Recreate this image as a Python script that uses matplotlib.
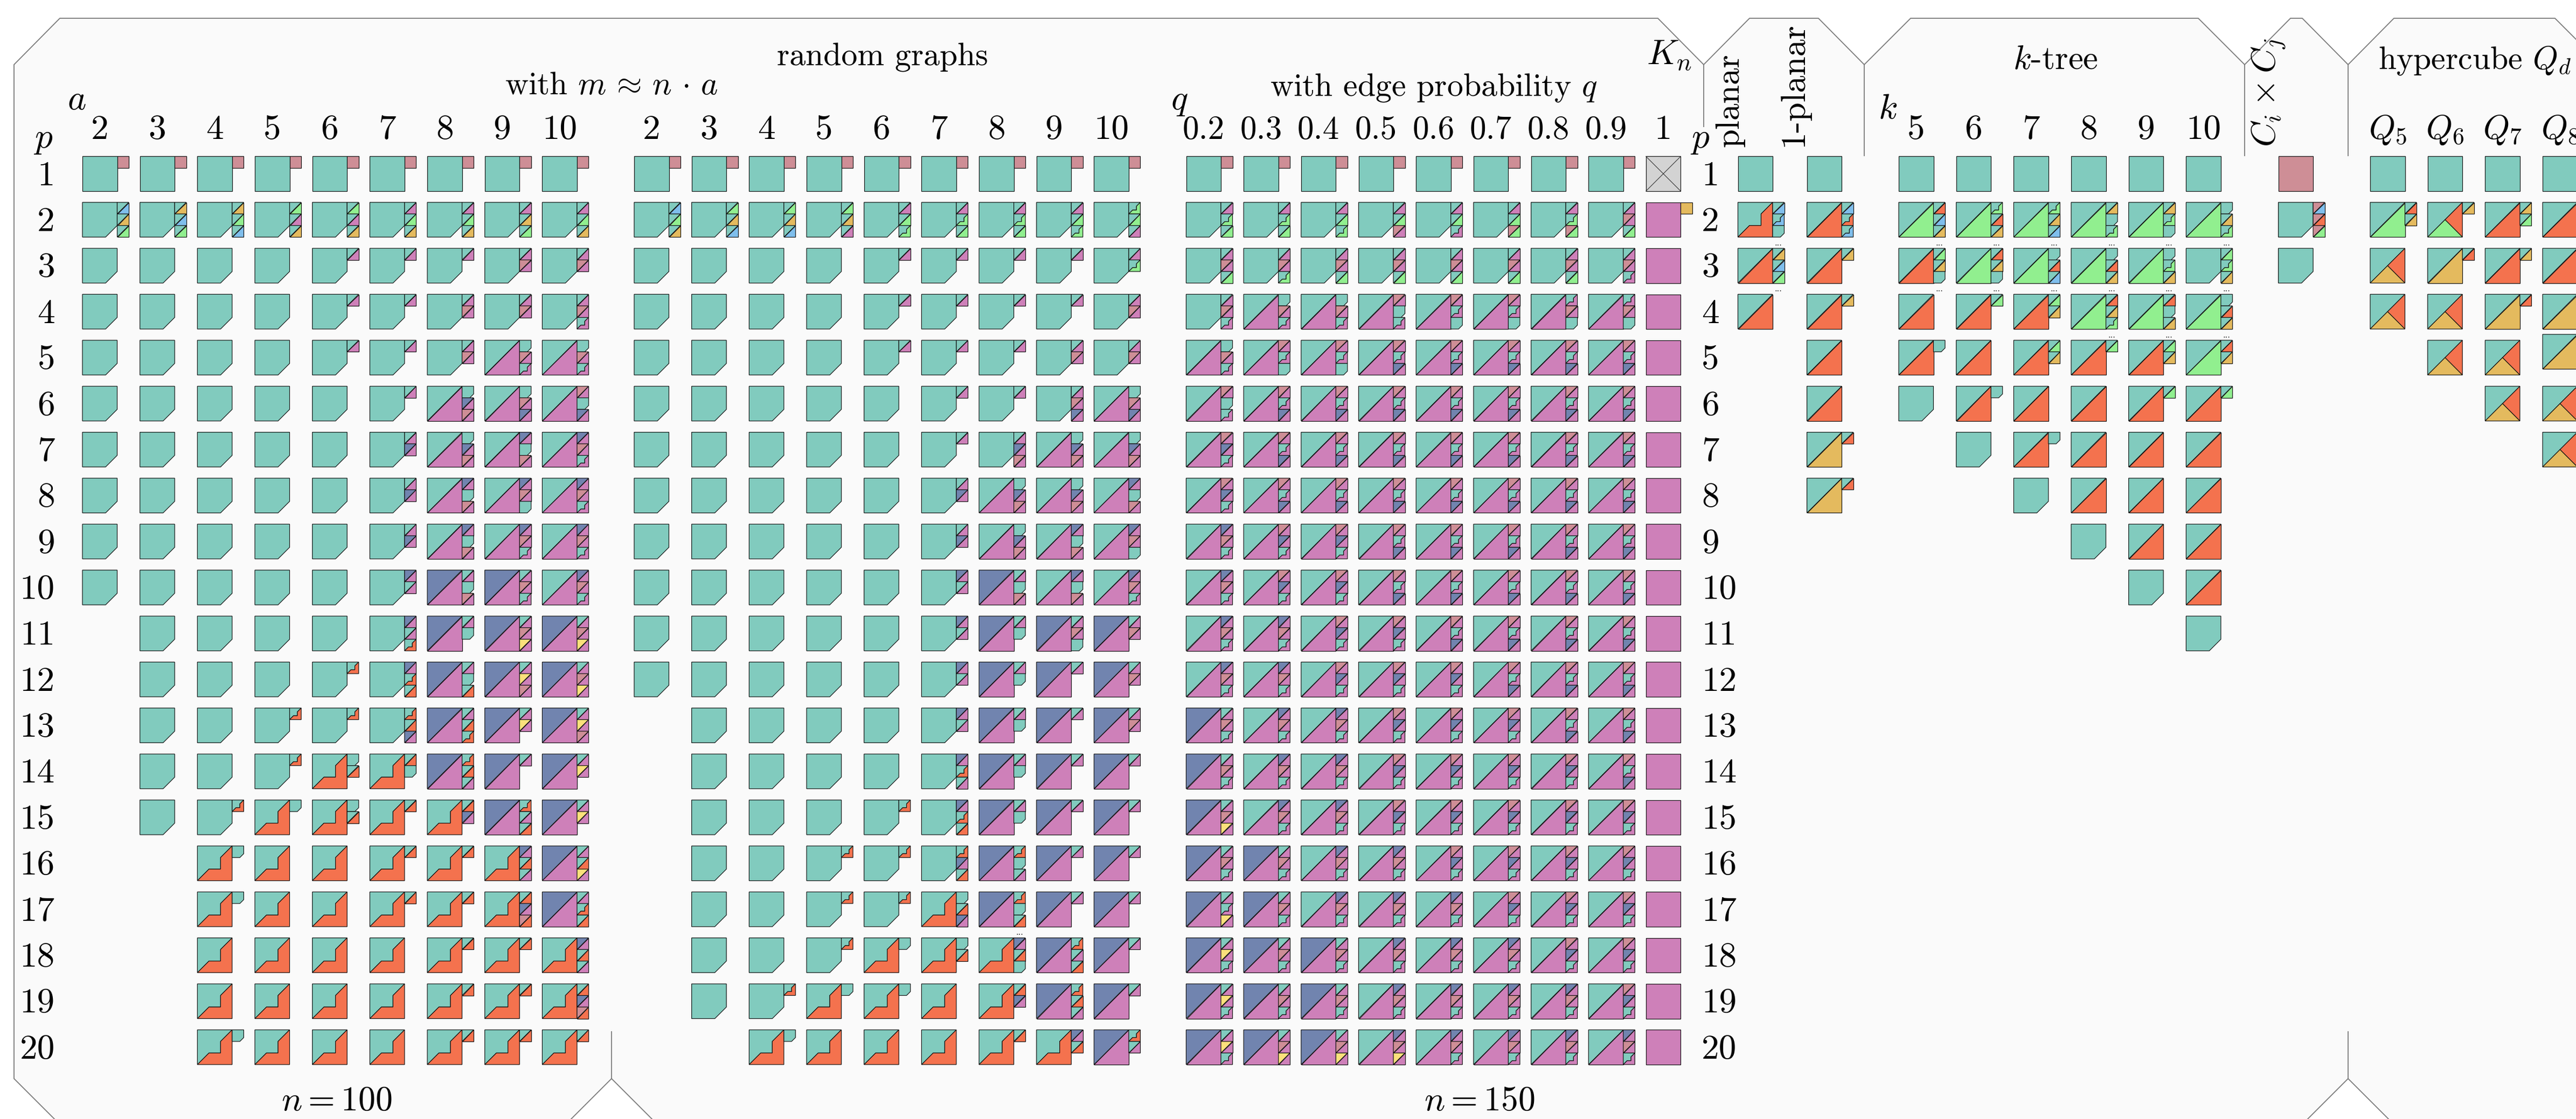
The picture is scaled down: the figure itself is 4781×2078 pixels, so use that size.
import matplotlib
matplotlib.use("Agg")
import matplotlib.pyplot as plt
from matplotlib.patches import Polygon

plt.rcParams['font.family'] = ['cmr10', 'DejaVu Sans']
plt.rcParams['mathtext.fontset'] = 'cm'
plt.rcParams['axes.unicode_minus'] = False

COLORS = {'t': '#81CBBE', 'm': '#CE80B9', 'b': '#7184AF', 'r': '#CE8E96', 'o': '#F4724E',
          'g': '#91EF8F', 'y': '#FBE07B', 'a': '#E4BA5E', 's': '#7FBEEC', 'x': '#D3D3D3'}

# Cell grammar: cells separated by blanks, "-" empty, first token main glyph, rest side glyphs
# c clipped teal | x crossed | lower letter full | Upper letter staircase teal/colour
# two letters diagonal | three letters three-part

RANDOM_M100 = [
"t,r t,r t,r t,r t,r t,r t,r t,r t,r",
"c,ts,ta,tg c,ta,ts,tg c,ta,tg,ts c,tg,tm,ta c,tg,tm,ta c,tm,tg,ta c,tm,tg,ta c,tm,ta,tg c,tm,tg,ta",
"c c c c c,tm c,tm c,tm c,tm,rm c,tm,rm",
"c c c c c,tm c,tm c,tm,rm c,tm,rm c,tm,rm,M",
"c c c c c,tm c,tm c,tm,rm tm,c,rm,M tm,c,rm,M",
"c c c c c c,tm tm,c,bm,rm tm,c,rm,bm tm,rm,c,bm",
"c c c c c c,tm,bm tm,c,bm,rm tm,bm,c,rm tm,bm,rm,M",
"c c c c c c,tm,bm tm,bm,c,rm tm,bm,rm,c tm,bm,rm,M",
"c c c c c c,tm,bm tm,bm,c,rm tm,bm,rm,M tm,bm,rm,M",
"c c c c c c,bm,tm bm,tm,c,rm bm,tm,rm,M tm,bm,rm,M",
"- c c c c c,bm,tm,O bm,tm,c bm,tm,rm,ym bm,tm,rm,ym",
"- c c c c,O c,bm,O,to bm,tm,c,to bm,tm,ym,rm bm,tm,rm,ym",
"- c c c,O c,O c,O,to,bm bm,tm,to,O bm,tm,ym bm,tm,ym,rm",
"- c c c,O O,c,to O,to,c bm,O,to,tm bm,tm bm,tm,ym",
"- c c,O O,c O,c,to O,to O,to,bm bm,O,tm,to bm,tm,ym",
"- - O,c O O O,to O,to O,bm,to,tm bm,tm,to,ym",
"- - O,c O O O,to O,to O,to,bm,ro bm,tm,O,to",
"- - O O O O O,to O,to O,bm,to,tm",
"- - O O O O O,to O,to O,to,bm,ro",
"- - O,c O O O O,to O,to O,to",
]

RANDOM_M150 = [
"t,r t,r t,r t,r t,r t,r t,r t,r t,r",
"c,ts,tg,ta c,tg,ta,ts c,tg,ta,ts c,tg,ta,tm c,tm,tg,G c,tm,G,tg c,tm,G,tg c,tm,tg,G c,G,tg,tm",
"c c c c c,tm c,tm c,tm c,tm c,tm,G",
"c c c c c,tm c,tm c,tm c,tm c,tm,rm",
"c c c c c,tm c,tm c,tm c,tm,rm c,tm,rm",
"c c c c c c,tm c,tm c,tm,rm,bm tm,c,rm,bm",
"c c c c c c,tm c,tm,bm,rm tm,c,bm,rm tm,c,bm,rm",
"c c c c c c,tm,bm tm,c,bm,rm tm,c,bm,rm tm,bm,c,rm",
"c c c c c c,tm,bm tm,c,bm,rm tm,bm,c,rm tm,bm,rm,c",
"c c c c c c,bm,tm bm,tm,c,rm tm,bm,c,rm tm,bm,rm,M",
"c c c c c c,bm,tm bm,tm,c bm,tm,rm,c bm,tm,rm",
"c c c c c c,bm,tm bm,tm,c bm,tm bm,tm,rm",
"- c c c c c,bm,tm bm,tm,c bm,tm bm,tm,rm",
"- c c c c c,bm,O,tm bm,tm,c bm,tm bm,tm",
"- c c c c,O c,bm,O,to bm,tm,c bm,tm bm,tm",
"- c c c,O c,O c,O,bm,to bm,O,c,tm bm,tm bm,tm",
"- c c c,O c,O O,c,to,bm bm,O,c,to bm,tm bm,tm",
"- c c c,O O,c O,c,to O,bm,to,c bm,O,tm,to bm,tm",
"- c c,O O,c O,c O O,to,bm bm,O,to,tm bm,tm",
"- - O,c O O O O,to O,bm,to bm,O,tm",
]

RANDOM_Q = [
"t,r t,r t,r t,r t,r t,r t,r t,r",
"c,tm,G,tg c,tm,G,tg c,tm,tg,G c,tm,tg,rm c,tm,tg,M c,tm,tg,rg c,tm,G,rg c,tm,rm,tg",
"c,tm,rm,tg c,tm,rm,G c,tm,rm,tg c,tm,rm,tg c,tm,rm,tg c,tm,rm,tg c,tm,rm,tg c,tm,rm,M",
"c,tm,rm,M tm,c,rm,M tm,c,rm,M tm,rm,c,M tm,rm,M,c tm,rm,M,c tm,M,rm,c tm,M,rm,c",
"tm,c,rm,M tm,rm,M,c tm,rm,M,c tm,rm,M,bm tm,rm,M,bm tm,rm,M,bm tm,rm,M,bm tm,rm,M,bm",
"tm,rm,c,M tm,rm,M,bm tm,rm,M,bm tm,rm,M,bm tm,rm,M,bm tm,rm,M,bm tm,rm,M,bm tm,rm,M,bm",
"tm,rm,bm,M tm,rm,M,bm tm,rm,M,bm tm,rm,M,bm tm,rm,M,bm tm,rm,M,bm tm,rm,M,bm tm,rm,M,bm",
"tm,rm,bm,M tm,rm,M,bm tm,rm,M,bm tm,rm,M,bm tm,rm,M,bm tm,rm,M,bm tm,rm,M,bm tm,rm,M,bm",
"tm,bm,rm,M tm,rm,bm,M tm,rm,bm,M tm,rm,M,bm tm,rm,M,bm tm,rm,M,bm tm,rm,M,bm tm,rm,M,bm",
"tm,bm,rm,M tm,rm,bm,M tm,rm,bm,M tm,rm,M,bm tm,rm,M,bm tm,rm,M,bm tm,rm,M,bm tm,rm,M,bm",
"tm,bm,rm,M tm,bm,rm,M tm,rm,bm,M tm,rm,bm,M tm,rm,M,bm tm,rm,M,bm tm,rm,M,bm tm,rm,M,bm",
"tm,bm,rm,M tm,bm,rm,M tm,rm,bm,M tm,rm,bm,M tm,rm,bm,M tm,rm,M,bm tm,rm,M,bm tm,rm,M,bm",
"bm,tm,rm,M tm,bm,rm,M tm,bm,rm,M tm,rm,bm,M tm,rm,bm,M tm,rm,bm,M tm,rm,M,bm tm,rm,M,bm",
"bm,tm,rm,M tm,bm,rm,M tm,bm,rm,M tm,rm,bm,M tm,rm,bm,M tm,rm,bm,M tm,rm,bm,M tm,rm,M,bm",
"bm,tm,rm,ym tm,bm,rm,M tm,bm,rm,M tm,rm,bm,M tm,rm,bm,M tm,rm,bm,M tm,rm,bm,M tm,rm,bm,M",
"bm,tm,rm,M bm,tm,rm,M tm,bm,rm,M tm,bm,rm,M tm,rm,bm,M tm,rm,bm,M tm,rm,bm,M tm,rm,bm,M",
"bm,tm,M,ym bm,tm,rm,M tm,bm,rm,M tm,bm,rm,M tm,bm,rm,M tm,rm,bm,M tm,rm,bm,M tm,rm,bm,M",
"bm,tm,ym,M bm,tm,rm,M bm,tm,rm,M tm,bm,rm,M tm,bm,rm,M tm,bm,rm,M tm,rm,bm,M tm,rm,bm,M",
"bm,tm,ym,M bm,tm,rm,M bm,tm,rm,M tm,bm,rm,M tm,bm,rm,M tm,bm,rm,M tm,bm,rm,M tm,rm,bm,M",
"bm,tm,ym,M bm,tm,rm,ym bm,tm,rm,ym tm,bm,rm,ym tm,bm,rm,M tm,bm,rm,M tm,bm,rm,M tm,bm,rm,M",
]
COMPLETE = ["x", "m,a"] + ["m"] * 18

PLANAR = ["t", "O,ts,S,c", "to,ta,ts,tg", "to"]
ONE_PLANAR = ["t", "to,ts,O,S", "to,ta", "to,ta", "to", "to", "ta,to", "ta,to"]
KTREE = [
["t", "tg,to,ts,ta", "to,tg,ta,c", "to", "to,c", "c"],
["t", "tg,G,to,ta", "tg,to,ta,c", "to,tg", "to", "to,c", "c"],
["t", "tg,G,ta,ts", "tg,c,to,ts", "to,tg,ta", "to,tg,ta", "to", "to,c", "c"],
["t", "tg,ta,c,G", "tg,c,to,ta", "tg,to,ta,G", "to,tg", "to", "to", "to", "c"],
["t", "tg,ta,G,c", "tg,c,G,ta", "tg,to,c,ta", "to,tg,ta", "to,tg", "to", "to", "to", "c"],
["t", "tg,c,ta,G", "c,tg,G,ta", "tg,c,to,ta", "tg,to,ta", "to,tg", "to", "to", "to", "to", "c"],
]
CYCLE_PRODUCT = ["r", "c,rs,ro,rg", "c"]
HYPERCUBE = [
["t", "tg,to,ta", "toa", "toa"],
["t", "tog,ta", "ta,to", "toa", "toa"],
["t", "to,ta,tg", "to,ta", "ta,to", "toa", "toa"],
["t", "to", "to", "ta", "ta", "toa", "toa"],
]
ROW_LABELS = [str(i) for i in range(1, 21)]
A_LABELS = ['2', '3', '4', '5', '6', '7', '8', '9', '10']
Q_LABELS = ['0.2', '0.3', '0.4', '0.5', '0.6', '0.7', '0.8', '0.9']
K_LABELS = ['5', '6', '7', '8', '9', '10']
Q_D_LABELS = ['$Q_5$', '$Q_6$', '$Q_7$', '$Q_8$']

W, H = 4781, 2078
S = 64.5
s = S / 3
Y0, DY = 290.4, 85.37
DX = 106.68
X_M100, X_M150, X_Q = 153, 1177, 2201.5
X_KN, X_PL, X_1PL = 3054.8, 3225.5, 3353.6
X_K, X_C, X_H = 3524, 4228.6, 4399
EDGE = '#111111'
LW = 0.85

fig = plt.figure(figsize=(W / 100, H / 100), dpi=100, facecolor='white')
ax = fig.add_axes([0, 0, 1, 1])
ax.set_xlim(0, W)
ax.set_ylim(H, 0)
ax.axis('off')

panel = [(26, 120), (111, 34), (3077, 34), (3162, 120), (3247, 34), (3375, 34), (3460, 120), (3546, 34),
         (4080, 34), (4166, 120), (4251, 34), (4273, 34), (4358, 120), (4443, 34), (4742, 34), (4850, 142),
         (4850, 2200), (4555, 2200), (4358, 2003), (4161, 2200), (1332, 2200), (1135, 2003), (938, 2200),
         (223, 2200), (26, 2003)]
ax.add_patch(Polygon(panel, closed=True, facecolor='#FAFAFA', edgecolor='#7a7a7a', lw=1.3, zorder=0))
for x, y0, y1 in [(3162, 120, 236), (3460, 120, 290), (4166, 120, 290), (4358, 120, 290),
                  (1135, 1915, 2003), (4358, 1915, 2003)]:
    ax.plot([x, x], [y0, y1], color='#7a7a7a', lw=1.3, zorder=0, solid_capstyle='butt')


def poly(pts, x, y, z, color, edge=EDGE):
    ax.add_patch(Polygon([(x + u * z, y + z - v * z) for u, v in pts], closed=True,
                         facecolor=color, edgecolor=edge, lw=LW, joinstyle='miter', zorder=2))


def glyph(tok, x, y, z):
    if tok == 'c':
        poly([(0, 0), (2 / 3, 0), (1, 1 / 3), (1, 1), (0, 1)], x, y, z, COLORS['t'])
    elif tok == 'x':
        poly([(0, 0), (1, 0), (1, 1), (0, 1)], x, y, z, COLORS['x'])
        for a, b in [((0, 0), (1, 1)), ((0, 1), (1, 0))]:
            ax.plot([x + a[0] * z, x + b[0] * z], [y + z - a[1] * z, y + z - b[1] * z],
                    color='#333333', lw=0.8, zorder=3)
    elif len(tok) == 1 and tok.isupper():
        stair = [(0, 0), (1 / 3, 1 / 3), (2 / 3, 1 / 3), (2 / 3, 2 / 3), (1, 1)]
        poly(stair + [(0, 1)], x, y, z, COLORS['t'])
        poly(stair + [(1, 0)], x, y, z, COLORS[tok.lower()])
    elif len(tok) == 1:
        poly([(0, 0), (1, 0), (1, 1), (0, 1)], x, y, z, COLORS[tok])
    elif len(tok) == 2:
        poly([(0, 0), (1, 1), (0, 1)], x, y, z, COLORS[tok[0]])
        poly([(0, 0), (1, 0), (1, 1)], x, y, z, COLORS[tok[1]])
    else:
        poly([(0, 0), (1, 1), (0, 1)], x, y, z, COLORS[tok[0]])
        poly([(.5, .5), (1, 0), (1, 1)], x, y, z, COLORS[tok[1]])
        poly([(0, 0), (1, 0), (.5, .5)], x, y, z, COLORS[tok[2]])


def cell(spec, x, y, dots=False):
    if spec == '-':
        return
    toks = spec.split(',')
    glyph(toks[0], x, y, S)
    for i, t in enumerate(toks[1:]):
        glyph(t, x + S, y + i * s, s)
    if dots:
        ax.text(x + S + s / 2, y + S + 11, '...', fontsize=12, ha='center', va='center', color='#222222')


def draw_rows(rows, x0):
    for r, row in enumerate(rows):
        for c, spec in enumerate(row.split()):
            cell(spec, x0 + c * DX, Y0 + r * DY)


draw_rows(RANDOM_M100, X_M100)
draw_rows(RANDOM_M150, X_M150)
draw_rows(RANDOM_Q, X_Q)
for r, spec in enumerate(COMPLETE):
    cell(spec, X_KN, Y0 + r * DY)
for r, spec in enumerate(PLANAR):
    cell(spec, X_PL, Y0 + r * DY, dots=r in (1, 2))
for r, spec in enumerate(ONE_PLANAR):
    cell(spec, X_1PL, Y0 + r * DY)
for c, col in enumerate(KTREE):
    for r, spec in enumerate(col):
        cell(spec, X_K + c * DX, Y0 + r * DY, dots=r in (1, 2) or (r == 3 and c >= 3))
cell_dots_m150 = (16, 6)
ax.text(X_M150 + cell_dots_m150[1] * DX + S + s / 2, Y0 + cell_dots_m150[0] * DY + S + 11, '...',
        fontsize=12, ha='center', va='center', color='#222222')
for r, spec in enumerate(CYCLE_PRODUCT):
    cell(spec, X_C, Y0 + r * DY)
for c, col in enumerate(HYPERCUBE):
    for r, spec in enumerate(col):
        nudge = -11 if (c, r) == (3, 4) else 0
        cell(spec, X_H + c * DX, Y0 + r * DY + nudge)

FS = 47
FS_WORD = 43


def T(x, y, txt, ha='center', va='baseline', rot=0, fs=FS):
    ax.text(x, y, txt, fontsize=fs, ha=ha, va=va, rotation=rot, color='black', zorder=4)


BASE = 258
for x0, labs, fs in [(X_M100, A_LABELS, FS), (X_M150, A_LABELS, FS), (X_Q, Q_LABELS, 44),
                     (X_K, K_LABELS, FS), (X_H, Q_D_LABELS, 45)]:
    for i, l in enumerate(labs):
        T(x0 + i * DX + S / 2, BASE, l, fs=fs)
T(X_KN + S / 2, BASE, '1')
for r, l in enumerate(ROW_LABELS):
    yb = Y0 + r * DY + S / 2 + 21
    T(102, yb, l, ha='right')
    T(3158, yb, l, ha='left')

T(142, 203, '$a$')
T(80, 274, '$p$')
T(3155, 274, '$p$')
T(2189, 203, '$q$')
T(3504, 220, '$k$')
T(1638, 122, 'random graphs', fs=FS_WORD)
T(1135, 175, r'with $m\,\approx\,n\,\cdot\,a$', fs=FS_WORD)
T(2661, 178, 'with edge probability $q$', fs=FS_WORD)
T(3098, 120, '$K_n$')
T(3815, 128, '$k$-tree', fs=45)
T(4593, 128, 'hypercube $Q_d$', fs=FS_WORD)
T(3211, 273, 'planar', va='bottom', rot=90, fs=45)
T(3330, 272, '1-planar', va='bottom', rot=90, fs=46)
T(4211, 273, r'$C_i \times C_j$', va='bottom', rot=90, fs=46)
T(625, 2062, '$n = 100$', fs=46)
T(2746, 2062, '$n = 150$', fs=46)

fig.savefig('out.png', dpi=100, facecolor='white')
